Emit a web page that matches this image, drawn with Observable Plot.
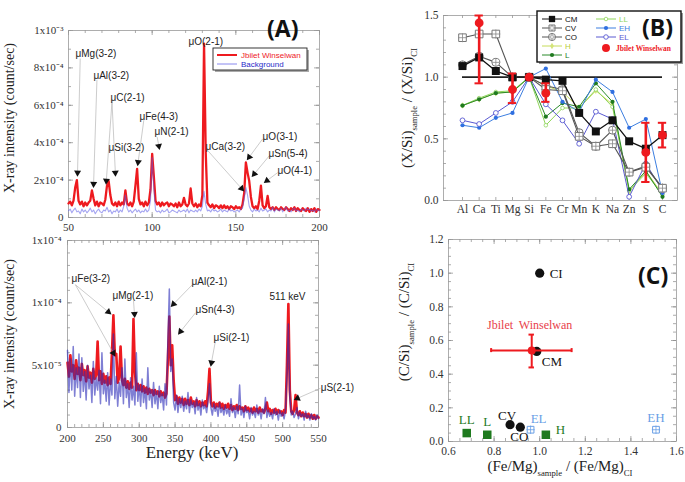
<!DOCTYPE html>
<html><head><meta charset="utf-8">
<script src="https://cdn.jsdelivr.net/npm/d3@7"></script>
<script src="https://cdn.jsdelivr.net/npm/@observablehq/plot@0.6"></script>
<style>
html,body{margin:0;padding:0;background:#fff;}
#wrap{position:relative;width:685px;height:482px;overflow:hidden;background:#fff;}
#wrap > svg{position:absolute;}
</style></head><body><div id="wrap"></div>
<script>
// ================= Panel (A) top: 50-200 keV, values in units of 1e-4 count/sec, 1 keV step =================
const spTopStart = 50, spTopStep = 1;
const spTopRed = [
0.75,0.85,0.65,0.9,1.6,2.0,0.9,0.7,0.85,0.6,
0.8,0.65,0.8,0.9,1.45,1.0,0.65,0.85,0.6,0.8,
0.75,0.65,0.95,1.7,1.95,1.2,0.75,0.65,0.8,0.6,
0.85,0.65,0.8,0.7,1.45,0.75,0.65,0.8,0.6,0.85,
1.7,2.6,1.0,0.7,0.8,0.6,0.85,0.65,0.8,1.5,
3.4,2.2,0.9,0.7,0.8,0.6,0.8,0.65,0.75,0.8,
0.6,0.75,0.7,0.6,0.75,0.55,0.8,0.6,0.7,1.05,
0.7,0.6,0.75,1.55,0.75,0.6,0.75,0.55,0.7,0.6,
1.2,9.3,3.5,0.8,0.65,0.55,0.7,0.5,0.65,0.6,
0.5,0.65,0.5,0.65,0.5,0.6,0.45,0.6,0.55,0.45,
0.6,0.5,0.55,0.45,0.7,1.3,2.95,2.4,1.95,1.1,
0.6,0.5,0.6,0.45,0.9,1.7,0.65,0.5,0.6,1.15,
0.55,0.45,0.55,0.4,0.55,0.45,0.4,0.55,0.45,0.4,
0.55,0.45,0.35,0.5,0.4,0.55,0.35,0.5,0.4,0.35,
0.5,0.4,0.35,0.5,0.3,0.45,0.35,0.5,0.3,0.45,
0.4];
const spTopBg = [
0.35,0.45,0.25,0.4,0.5,0.3,0.35,0.2,0.45,0.3,
0.4,0.25,0.35,0.5,0.3,0.4,0.2,0.35,0.45,0.3,
0.25,0.4,0.35,0.55,0.3,0.4,0.2,0.35,0.3,0.45,
0.25,0.4,0.3,0.6,1.2,0.5,0.3,0.4,0.25,0.35,
0.45,0.3,0.4,0.25,0.35,0.3,0.45,0.3,0.4,0.9,
3.2,1.5,0.4,0.3,0.35,0.25,0.4,0.3,0.35,0.45,
0.25,0.3,0.4,0.35,0.3,0.25,0.4,0.3,0.35,0.4,
0.3,0.45,0.25,0.4,0.35,0.3,0.4,0.3,0.45,0.35,
0.6,1.4,0.7,0.35,0.4,0.3,0.45,0.35,0.4,0.3,
0.35,0.45,0.3,0.4,0.35,0.3,0.45,0.35,0.4,0.3,
0.35,0.4,0.3,0.45,0.5,1.0,1.6,1.2,0.6,0.4,
0.3,0.45,0.35,0.4,0.3,0.5,0.35,0.4,0.45,0.3,
0.4,0.35,0.55,0.3,0.45,0.4,0.35,0.5,0.3,0.45,
0.55,0.35,0.4,0.3,0.45,0.5,0.35,0.4,0.3,0.45,
0.4,0.35,0.5,0.4,0.45,0.35,0.4,0.3,0.45,0.35,
0.4];
const xTopTicks = [50, 100, 150, 200];
const yTopTicks = [0, 2, 4, 6, 8, 10];
const yTopLabels = ["0", "2x10⁻⁴", "4x10⁻⁴", "6x10⁻⁴", "8x10⁻⁴", "1x10⁻³"];
const annTopText = ["μMg(3-2)","μAl(3-2)","μC(2-1)","μFe(4-3)","μN(2-1)","μSi(3-2)","μO(2-1)","μCa(3-2)","μO(3-1)","μSn(5-4)","μO(4-1)"];
const annTopE = [54.2, 64.9, 75.1, 92.4, 101.4, 73.9, 121.7, 131.9, 166, 169.5, 174.9];
const annTopY = [8.77, 7.59, 6.42, 5.4, 4.6, 3.74, 9.41, 3.8, 4.33, 3.42, 2.51];
const arrTopX1 = [57, 67, 76, 76, 95, 103, 133, 166, 170, 175];
const arrTopY1 = [8.5, 7.36, 6.2, 6.2, 5.2, 4.3, 3.6, 4.2, 3.3, 2.4];
const arrTopX2 = [55.4, 65, 72.6, 78, 91.6, 104, 153.4, 158, 161, 168.6];
const arrTopY2 = [2.4, 1.8, 1.97, 2.39, 2.96, 3.82, 1.55, 3.23, 2.33, 1.97];

// ================= Panel (A) bottom: 200-550 keV, units of 1e-5 count/sec, 2 keV step =================
const spBotStart = 200, spBotStep = 2;
const spBotRed = [
5.2,4.1,5.8,4.5,5.0,3.9,5.4,4.3,4.8,3.8,
5.1,4.2,4.6,3.7,4.9,4.0,4.4,3.6,4.7,3.9,
4.2,6.9,3.8,4.5,3.5,4.3,3.6,4.1,3.4,4.0,
3.5,6.0,9.0,5.8,5.9,3.6,4.0,6.5,3.8,3.4,
3.9,3.2,3.7,3.1,3.6,3.2,8.7,4.5,3.0,3.5,
3.0,3.4,2.9,3.3,2.8,3.2,2.7,3.1,2.8,3.0,
2.6,3.0,2.7,2.9,2.5,2.9,2.6,2.8,2.4,2.7,
5.5,8.9,5.0,6.6,3.8,2.2,2.5,1.9,2.4,2.0,
2.3,1.8,2.3,1.9,2.2,1.8,2.4,1.9,2.1,1.7,
2.2,1.8,2.1,1.7,2.0,1.8,2.1,1.7,2.9,4.7,
2.0,1.7,2.0,1.6,1.9,1.7,2.0,1.6,1.9,1.5,
1.8,1.6,1.9,1.5,1.8,1.4,1.7,1.5,1.8,1.4,
1.7,1.5,1.6,1.3,1.7,1.4,1.6,1.3,1.5,1.2,
1.6,1.3,1.5,1.2,1.6,1.3,1.4,1.2,1.5,2.0,
1.3,1.5,1.1,1.4,1.2,1.5,1.1,1.4,1.2,1.3,
1.0,1.4,1.2,5.0,9.9,3.0,1.3,1.1,1.4,2.6,
1.2,1.0,1.3,0.9,1.2,0.9,1.1,0.8,1.1,0.8,
1.0,0.7,1.0,0.7,0.9,0.8];
const spBotBg = [
6.2,2.8,5.5,3.0,6.5,2.5,4.8,3.2,5.9,2.4,
5.6,2.9,4.5,2.2,5.0,3.1,4.2,2.0,5.3,2.6,
4.0,3.0,4.6,1.9,6.0,2.7,3.8,2.1,4.4,1.8,
3.9,2.6,7.5,2.3,4.1,1.7,3.6,2.5,4.8,1.9,
5.5,2.4,3.5,1.6,4.0,2.2,3.3,1.8,6.0,2.1,
3.4,1.7,3.9,2.0,3.1,1.5,4.8,2.2,3.0,1.6,
3.6,1.9,2.9,1.5,3.3,2.0,2.7,1.4,3.5,1.8,
7.0,11.1,4.5,5.5,2.0,1.4,2.6,1.2,2.3,1.6,
2.5,1.3,2.1,1.5,2.8,1.2,2.2,1.6,2.0,1.1,
2.4,1.4,1.9,1.0,2.2,1.5,1.8,1.2,2.1,3.5,
1.6,1.0,1.9,1.3,1.7,0.9,2.0,1.2,1.6,1.0,
1.8,1.1,1.5,0.9,2.3,1.2,1.6,0.8,1.7,1.1,
3.4,1.0,1.5,0.8,1.7,1.2,1.4,0.7,1.6,1.0,
1.3,0.8,1.8,1.0,1.4,0.7,1.5,1.1,2.4,0.8,
1.4,0.9,1.2,0.7,1.5,1.0,1.3,0.6,1.4,0.9,
1.2,0.7,1.4,4.0,8.3,2.5,1.0,1.3,0.8,1.1,
1.6,0.7,1.2,0.9,1.1,0.6,1.3,0.8,1.0,0.6,
1.1,0.7,0.9,0.6,1.0,0.7];
const xBotTicks = [200, 250, 300, 350, 400, 450, 500, 550];
const yBotTicks = [0, 5, 10, 15];
const yBotLabels = ["0", "5x10⁻⁵", "1x10⁻⁴", "1x10⁻⁴"];
const annBotText = ["μFe(3-2)","μMg(2-1)","μAl(2-1)","μSn(4-3)","μSi(2-1)","511 keV","μS(2-1)"];
const annBotE = [205.6, 262.7, 372.9, 378.5, 403.6, 481.7, 553];
const annBotY = [11.9, 10.56, 11.7, 9.44, 7.18, 10.48, 3.15];
const arrBotX1 = [211, 211, 292, 374, 378.5, 406, 552.8];
const arrBotY1 = [11.45, 11.45, 10.2, 11.45, 9.2, 6.85, 3.15];
const arrBotX2 = [257, 264, 293.4, 347.8, 357.6, 400.7, 520.7];
const arrBotY2 = [9.27, 5.97, 9.1, 9.9, 7.7, 5.2, 2.34];

// ================= Panel (B) =================
const elements = ["Al","Ca","Ti","Mg","Si","Fe","Cr","Mn","K","Na","Zn","S","C"];
const bCM = [1.09,1.16,1.05,1.00,1.00,0.98,0.97,0.71,0.56,0.65,0.48,0.42,0.53];
const bCV = [1.32,1.35,1.35,1.00,1.00,0.90,0.89,0.52,0.44,0.46,0.23,0.27,0.10];
const bCO = [1.10,1.17,1.12,1.00,1.00,0.93,0.90,0.55,0.44,0.57,0.23,0.28,0.10];
const bH  = [0.77,0.82,0.87,0.88,1.00,0.93,0.88,0.75,0.89,0.78,0.07,0.24,0.05];
const bL  = [0.77,0.82,0.87,0.88,1.00,0.68,0.79,0.76,0.95,0.80,0.09,0.24,0.03];
const bLL = [0.77,0.83,0.88,0.89,1.00,0.61,0.75,0.75,0.90,0.76,0.08,0.22,0.05];
const bEH = [0.61,0.59,0.67,0.71,1.00,1.07,0.80,0.72,0.98,0.88,0.59,0.66,0.06];
const bEL = [0.65,0.62,0.71,0.80,1.00,0.78,0.65,0.46,0.72,0.66,0.03,0.30,0.08];
const jbEl = ["Ca","Mg","Si","Fe","S","C"];
const jbVal = [1.44, 0.90, 1.00, 0.87, 0.39, 0.53];
const jbLo  = [0.95, 0.79, 1.00, 0.80, 0.15, 0.43];
const jbHi  = [1.50, 1.03, 1.00, 0.95, 0.63, 0.63];
const yBTicks = [0, 0.5, 1.0, 1.5];

// ================= Panel (C) =================
const cNames = ["CI","CM","CV","CO","LL","L","H","EL","EH"];
const cGroup = ["C","C","C","C","O","O","O","E","E"];
const cFeMg  = [1.00, 0.987, 0.87, 0.915, 0.68, 0.77, 1.027, 0.96, 1.51];
const cCSi   = [1.00, 0.535, 0.10, 0.085, 0.05, 0.04, 0.04, 0.07, 0.07];
const jbC = {fe: 0.965, c: 0.54, feLo: 0.787, feHi: 1.14, cLo: 0.44, cHi: 0.635};
const xCTicks = [0.6, 0.8, 1.0, 1.2, 1.4, 1.6];
const yCTicks = [0, 0.2, 0.4, 0.6, 0.8, 1.0, 1.2];

// ================= styles =================
const RED = "#ee1a1f", BLUE = "#2a2ab8";
const SERIF = "'Liberation Serif', 'Times New Roman', serif";
const SANS = "'Liberation Sans', Arial, sans-serif";
const baseStyle = {fontFamily: SERIF, fontSize: "11px", color: "#333", background: "transparent", overflow: "visible"};
const labelOffsetC = {CI:[10,1,"start"], CM:[5,10,"start"], CV:[-3,-9,"middle"], CO:[-1,10,"middle"], EL:[8,-11,"middle"], H:[10,-5,"start"], LL:[0,-13,"middle"], L:[0,-13,"middle"], EH:[0,-12,"middle"]};
const groupColorC = {C:"#111", O:"#1f7a1f", E:"#6a9fe6"};

const wrap = document.getElementById("wrap");
function place(svg, left, top) { svg.style.position = "absolute"; svg.style.left = left + "px"; svg.style.top = top + "px"; wrap.appendChild(svg); }
function inTicks(xs, ys, xd, yd, lx, ly, stroke) {
  const o = {stroke: stroke || "#888", strokeWidth: 0.7};
  return [
    Plot.ruleX(xs, {x: d => d, y1: () => yd[0], y2: () => yd[0] + ly, ...o}),
    Plot.ruleX(xs, {x: d => d, y1: () => yd[1], y2: () => yd[1] - ly, ...o}),
    Plot.ruleY(ys, {y: d => d, x1: () => xd[0], x2: () => xd[0] + lx, ...o}),
    Plot.ruleY(ys, {y: d => d, x1: () => xd[1], x2: () => xd[1] - lx, ...o})
  ];
}
function headRot(a, kx, ky) { return Math.atan2(-(a.y2 - a.y1) * ky, (a.x2 - a.x1) * kx) * 180 / Math.PI + 90; }

// ---------- Panel A top ----------
{
  const red = spTopRed.map((v, i) => ({e: spTopStart + i * spTopStep, v}));
  const bg = spTopBg.map((v, i) => ({e: spTopStart + i * spTopStep, v}));
  const labs = annTopText.map((t, i) => ({t, e: annTopE[i], y: annTopY[i]}));
  const arr = arrTopX1.map((x1, i) => ({x1, y1: arrTopY1[i], x2: arrTopX2[i], y2: arrTopY2[i]}));
  const kx = 251 / 150, ky = 187 / 10;
  const p = Plot.plot({
    width: 330, height: 235, marginLeft: 68, marginRight: 11, marginTop: 30, marginBottom: 18,
    style: baseStyle,
    x: {domain: [50, 200], label: null}, y: {domain: [0, 10], label: null},
    marks: [
      ...inTicks(d3.range(50, 201, 10), d3.range(0, 10.01, 1), [50, 200], [0, 10], 150 / 251 * 3, 10 / 187 * 3),
      ...inTicks(xTopTicks, yTopTicks, [50, 200], [0, 10], 150 / 251 * 5, 10 / 187 * 5),
      Plot.frame({stroke: "#999", strokeWidth: 0.8}),
      Plot.axisX({ticks: xTopTicks, tickSize: 0, tickPadding: 6, tickFormat: d => String(d)}),
      Plot.axisY({ticks: yTopTicks, tickSize: 0, tickPadding: 5, tickFormat: d => yTopLabels[yTopTicks.indexOf(d)]}),
      Plot.line(red, {x: "e", y: "v", stroke: RED, strokeWidth: 2.3, strokeLinejoin: "round"}),
      Plot.line(bg, {x: "e", y: "v", stroke: "#5a5ae6", strokeWidth: 1.1, strokeOpacity: 0.55}),
      Plot.link(arr, {x1: "x1", y1: "y1", x2: "x2", y2: "y2", stroke: "#aaa", strokeWidth: 0.6}),
      Plot.dot(arr, {x: "x2", y: "y2", symbol: "triangle", r: 2.6, fill: "#111", rotate: d => headRot(d, kx, ky)}),
      Plot.text(labs, {x: "e", y: "y", text: "t", textAnchor: "start", fontFamily: SANS, fontSize: 10, fill: "#222"})
    ]
  });
  place(p, 0, 0);
}

// ---------- Panel A bottom ----------
{
  const red = spBotRed.map((v, i) => ({e: spBotStart + i * spBotStep, v}));
  const bg = spBotBg.map((v, i) => ({e: spBotStart + i * spBotStep, v}));
  const labs = annBotText.map((t, i) => ({t, e: annBotE[i], y: annBotY[i]}));
  const arr = arrBotX1.map((x1, i) => ({x1, y1: arrBotY1[i], x2: arrBotX2[i], y2: arrBotY2[i]}));
  const kx = 251 / 350, ky = 187 / 15;
  const p = Plot.plot({
    width: 360, height: 252, marginLeft: 67, marginRight: 42, marginTop: 10, marginBottom: 55,
    style: baseStyle,
    x: {domain: [200, 550], label: null}, y: {domain: [0, 15], label: null},
    marks: [
      ...inTicks(d3.range(200, 551, 10), d3.range(0, 15.01, 1), [200, 550], [0, 15], 350 / 251 * 3, 15 / 187 * 3),
      ...inTicks(xBotTicks, yBotTicks, [200, 550], [0, 15], 350 / 251 * 5, 15 / 187 * 5),
      Plot.frame({stroke: "#999", strokeWidth: 0.8}),
      Plot.axisX({ticks: xBotTicks, tickSize: 0, tickPadding: 7, tickFormat: d => String(d)}),
      Plot.axisY({ticks: yBotTicks, tickSize: 0, tickPadding: 6, tickFormat: d => yBotLabels[yBotTicks.indexOf(d)]}),
      Plot.line(red, {x: "e", y: "v", stroke: RED, strokeWidth: 2.6, strokeLinejoin: "round"}),
      Plot.line(bg, {x: "e", y: "v", stroke: BLUE, strokeWidth: 1.5, strokeOpacity: 0.6}),
      Plot.link(arr, {x1: "x1", y1: "y1", x2: "x2", y2: "y2", stroke: "#aaa", strokeWidth: 0.6}),
      Plot.dot(arr, {x: "x2", y: "y2", symbol: "triangle", r: 2.6, fill: "#111", rotate: d => headRot(d, kx, ky)}),
      Plot.text(labs, {x: "e", y: "y", text: "t", textAnchor: "start", fontFamily: SANS, fontSize: 10, fill: "#222"})
    ]
  });
  place(p, 0, 230);
}

// ---------- Panel B ----------
{
  const rows = arr => arr.map((v, i) => ({i, v}));
  const jb = jbEl.map((el, k) => ({i: elements.indexOf(el), v: jbVal[k], lo: jbLo[k], hi: jbHi[k]}));
  const jbErr = jb.filter(d => d.hi > d.lo);
  const xd = [-1.14, 12.9];
  const idx = elements.map((_, i) => i);
  const p = Plot.plot({
    width: 345, height: 225, marginLeft: 103, marginRight: 8, marginTop: 15, marginBottom: 25,
    style: baseStyle,
    x: {domain: xd, label: null}, y: {domain: [0, 1.5], label: null},
    marks: [
      ...inTicks(idx, d3.range(0, 1.501, 0.1), xd, [0, 1.5], 14 / 234 * 3, 1.5 / 185 * 3),
      ...inTicks([], yBTicks, xd, [0, 1.5], 14 / 234 * 5, 1.5 / 185 * 5),
      Plot.frame({stroke: "#999", strokeWidth: 0.8}),
      Plot.axisX({ticks: idx, tickSize: 0, tickPadding: 4, tickFormat: i => elements[i], fontSize: 11.5}),
      Plot.axisY({ticks: yBTicks, tickSize: 0, tickPadding: 5, tickFormat: d3.format(".1f"), fontSize: 11.5}),
      Plot.ruleY([1], {x1: () => 0, x2: () => 12, stroke: "#222", strokeWidth: 1.6}),
      Plot.line(rows(bH), {x: "i", y: "v", stroke: "#c6dc5a", strokeWidth: 1}),
      Plot.dot(rows(bH), {x: "i", y: "v", symbol: "diamond", r: 2, fill: "#d4e47a"}),
      Plot.line(rows(bLL), {x: "i", y: "v", stroke: "#8fd65a", strokeWidth: 1}),
      Plot.dot(rows(bLL), {x: "i", y: "v", r: 1.8, fill: "#fff", stroke: "#8fd65a", strokeWidth: 0.8}),
      Plot.line(rows(bL), {x: "i", y: "v", stroke: "#2a8a2a", strokeWidth: 1}),
      Plot.dot(rows(bL), {x: "i", y: "v", r: 2.1, fill: "#1f7a1f"}),
      Plot.line(rows(bEH), {x: "i", y: "v", stroke: "#3c7ee0", strokeWidth: 1}),
      Plot.dot(rows(bEH), {x: "i", y: "v", r: 2.1, fill: "#2f6fe0"}),
      Plot.line(rows(bEL), {x: "i", y: "v", stroke: "#5a5ad2", strokeWidth: 1}),
      Plot.dot(rows(bEL), {x: "i", y: "v", r: 2.4, fill: "#fff", stroke: "#5a5ad2", strokeWidth: 0.9}),
      Plot.line(rows(bCO), {x: "i", y: "v", stroke: "#555", strokeWidth: 1.1}),
      Plot.dot(rows(bCO), {x: "i", y: "v", r: 4, fill: "#fff", stroke: "#777", strokeWidth: 1}),
      Plot.dot(rows(bCO), {x: "i", y: "v", symbol: "plus", r: 2.6, stroke: "#888", strokeWidth: 0.8}),
      Plot.line(rows(bCV), {x: "i", y: "v", stroke: "#555", strokeWidth: 1.1}),
      Plot.dot(rows(bCV), {x: "i", y: "v", symbol: "square", r: 4.3, fill: "#fff", stroke: "#777", strokeWidth: 1}),
      Plot.dot(rows(bCV), {x: "i", y: "v", symbol: "plus", r: 3, stroke: "#888", strokeWidth: 0.8}),
      Plot.line(rows(bCM), {x: "i", y: "v", stroke: "#111", strokeWidth: 1.3}),
      Plot.dot(rows(bCM), {x: "i", y: "v", symbol: "square", r: 4.5, fill: "#111"}),
      Plot.ruleX(jbErr, {x: "i", y1: "lo", y2: "hi", stroke: RED, strokeWidth: 2.6}),
      Plot.ruleY(jbErr, {y: "lo", x1: d => d.i - 0.25, x2: d => d.i + 0.25, stroke: RED, strokeWidth: 2}),
      Plot.ruleY(jbErr, {y: "hi", x1: d => d.i - 0.25, x2: d => d.i + 0.25, stroke: RED, strokeWidth: 2}),
      Plot.dot(jb, {x: "i", y: "v", r: 4.4, fill: RED})
    ]
  });
  place(p, 340, 0);
}

// ---------- Panel C ----------
{
  const pts = cNames.map((n, k) => ({n, g: cGroup[k], x: cFeMg[k], y: cCSi[k]}));
  const carb = pts.filter(d => d.g === "C"), ord = pts.filter(d => d.g === "O"), ens = pts.filter(d => d.g === "E");
  const p = Plot.plot({
    width: 345, height: 257, marginLeft: 108, marginRight: 9, marginTop: 14, marginBottom: 41,
    style: baseStyle,
    x: {domain: [0.6, 1.6], label: null}, y: {domain: [0, 1.2], label: null},
    marks: [
      ...inTicks(d3.range(0.6, 1.601, 0.05), d3.range(0, 1.201, 0.05), [0.6, 1.6], [0, 1.2], 1 / 228 * 3, 1.2 / 202 * 3),
      ...inTicks(xCTicks, yCTicks, [0.6, 1.6], [0, 1.2], 1 / 228 * 5, 1.2 / 202 * 5),
      Plot.frame({stroke: "#999", strokeWidth: 0.8}),
      Plot.axisX({ticks: xCTicks, tickSize: 0, tickPadding: 5, tickFormat: d3.format(".1f"), fontSize: 11.5}),
      Plot.axisY({ticks: yCTicks, tickSize: 0, tickPadding: 5, tickFormat: d3.format(".1f"), fontSize: 11.5}),
      Plot.dot(carb, {x: "x", y: "y", r: 4.6, fill: "#111"}),
      Plot.dot(ord, {x: "x", y: "y", symbol: "square", r: 4.8, fill: "#1f7a1f"}),
      Plot.dot(ens, {x: "x", y: "y", symbol: "square", r: 3.8, fill: "#fff", stroke: groupColorC.E, strokeWidth: 1}),
      Plot.dot(ens, {x: "x", y: "y", symbol: "plus", r: 2.8, stroke: groupColorC.E, strokeWidth: 0.8}),
      ...pts.map(d => Plot.text([d], {x: "x", y: "y", text: "n", dx: labelOffsetC[d.n][0], dy: labelOffsetC[d.n][1], textAnchor: labelOffsetC[d.n][2], fill: groupColorC[d.g], fontSize: 13, fontFamily: SERIF})),
      Plot.ruleY([jbC], {y: "c", x1: "feLo", x2: "feHi", stroke: RED, strokeWidth: 2}),
      Plot.ruleX([jbC], {x: "fe", y1: "cLo", y2: "cHi", stroke: RED, strokeWidth: 2}),
      Plot.ruleX([jbC], {x: "feLo", y1: d => d.c - 0.012, y2: d => d.c + 0.012, stroke: RED, strokeWidth: 2}),
      Plot.ruleX([jbC], {x: "feHi", y1: d => d.c - 0.012, y2: d => d.c + 0.012, stroke: RED, strokeWidth: 2}),
      Plot.ruleY([jbC], {y: "cLo", x1: d => d.fe - 0.012, x2: d => d.fe + 0.012, stroke: RED, strokeWidth: 2}),
      Plot.ruleY([jbC], {y: "cHi", x1: d => d.fe - 0.012, x2: d => d.fe + 0.012, stroke: RED, strokeWidth: 2}),
      Plot.dot([jbC], {x: "fe", y: "c", r: 4, fill: RED}),
      Plot.text([jbC], {x: "fe", y: "c", text: () => "Jbilet  Winselwan", dy: -25, dx: -2, fill: "#e8404a", fontSize: 12, fontFamily: SERIF})
    ]
  });
  place(p, 340, 225);
}

// ---------- overlay: titles, panel labels, legends ----------
const ov = d3.select("#wrap").append("svg").attr("width", 685).attr("height", 482).style("left", "0px").style("top", "0px");
function addParts(t, parts, size) {
  let down = false;
  parts.forEach(p => {
    const s = t.append("tspan").text(p.t);
    if (p.sub) { s.attr("font-size", size * 0.58).attr("dy", size * 0.32); down = true; }
    else if (down) { s.attr("dy", -size * 0.32); down = false; }
  });
}
function rotLabel(x, y, parts, size) {
  const t = ov.append("text").attr("transform", `translate(${x},${y}) rotate(-90)`).attr("text-anchor", "middle")
    .attr("font-family", SERIF).attr("font-size", size).attr("fill", "#222");
  addParts(t, parts, size);
}
rotLabel(14, 118, [{t: "X-ray intensity (count/sec)"}], 14);
rotLabel(14, 334, [{t: "X-ray intensity (count/sec)"}], 14);
ov.append("text").attr("x", 192).attr("y", 458).attr("text-anchor", "middle").attr("font-family", SERIF).attr("font-size", 17).attr("fill", "#222").text("Energy (keV)");
rotLabel(412, 108, [{t: "(X/Si)"}, {t: "sample", sub: true}, {t: " / (X/Si)"}, {t: "CI", sub: true}], 15);
rotLabel(409, 322, [{t: "(C/Si)"}, {t: "sample", sub: true}, {t: " / (C/Si)"}, {t: "CI", sub: true}], 15);
{
  const t = ov.append("text").attr("x", 560).attr("y", 471).attr("text-anchor", "middle").attr("font-family", SERIF).attr("font-size", 15).attr("fill", "#222");
  addParts(t, [{t: "(Fe/Mg)"}, {t: "sample", sub: true}, {t: " / (Fe/Mg)"}, {t: "CI", sub: true}], 15);
}

// Legend A
{
  const g = ov.append("g");
  g.append("rect").attr("x", 215).attr("y", 50).attr("width", 94).attr("height", 22).attr("fill", "#aaa");
  g.append("rect").attr("x", 213).attr("y", 48).attr("width", 94).attr("height", 22).attr("fill", "#fff").attr("stroke", "#222").attr("stroke-width", 0.9);
  g.append("line").attr("x1", 217).attr("x2", 237).attr("y1", 55).attr("y2", 55).attr("stroke", RED).attr("stroke-width", 2);
  g.append("text").attr("x", 241).attr("y", 58).attr("font-family", SANS).attr("font-size", 8).attr("fill", RED).text("Jbilet Winselwan");
  g.append("line").attr("x1", 217).attr("x2", 237).attr("y1", 64).attr("y2", 64).attr("stroke", "#8888ee").attr("stroke-width", 1);
  g.append("text").attr("x", 241).attr("y", 67).attr("font-family", SANS).attr("font-size", 8).attr("fill", "#2a2ac8").text("Background");
}
// Legend B
{
  const g = ov.append("g");
  g.append("rect").attr("x", 539).attr("y", 13).attr("width", 144).attr("height", 51).attr("fill", "#999");
  g.append("rect").attr("x", 537).attr("y", 11).attr("width", 144).attr("height", 51).attr("fill", "#fff").attr("stroke", "#111").attr("stroke-width", 1.4);
  const sym = (type, x, y, size, fill, stroke, sw) => g.append("path").attr("d", d3.symbol(type, size)()).attr("transform", `translate(${x},${y})`).attr("fill", fill).attr("stroke", stroke || "none").attr("stroke-width", sw || 1);
  const entry = (x0, y, line, txt, tcol) => {
    g.append("line").attr("x1", x0).attr("x2", x0 + 20).attr("y1", y).attr("y2", y).attr("stroke", line).attr("stroke-width", 1);
    g.append("text").attr("x", x0 + 23).attr("y", y + 3).attr("font-family", SANS).attr("font-size", 8).attr("fill", tcol).text(txt);
  };
  entry(542, 19, "#111", "CM", "#111"); sym(d3.symbolSquare, 552, 19, 40, "#111");
  entry(542, 28, "#555", "CV", "#111"); sym(d3.symbolSquare, 552, 28, 36, "#fff", "#777"); sym(d3.symbolCross, 552, 28, 14, "none", "#888", 0.7);
  entry(542, 37, "#555", "CO", "#111"); sym(d3.symbolCircle, 552, 37, 40, "#fff", "#777"); sym(d3.symbolCross, 552, 37, 12, "none", "#888", 0.7);
  entry(542, 46, "#c6dc5a", "H", "#b8cc40"); sym(d3.symbolDiamond, 552, 46, 12, "#d4e47a");
  entry(542, 55, "#2a8a2a", "L", "#1f7a1f"); sym(d3.symbolCircle, 552, 55, 14, "#1f7a1f");
  entry(596, 19, "#8fd65a", "LL", "#8fd65a"); sym(d3.symbolCircle, 606, 19, 10, "#fff", "#8fd65a", 0.8);
  entry(596, 28, "#3c7ee0", "EH", "#3c7ee0"); sym(d3.symbolCircle, 606, 28, 14, "#2f6fe0");
  entry(596, 37, "#5a5ad2", "EL", "#5a5ad2"); sym(d3.symbolCircle, 606, 37, 16, "#fff", "#5a5ad2", 0.9);
  sym(d3.symbolCircle, 606, 48, 50, RED);
  g.append("text").attr("x", 616).attr("y", 51).attr("font-family", SERIF).attr("font-weight", "bold").attr("font-size", 7.5).attr("fill", RED).text("Jbilet Winselwan");
}
// Panel labels
const panelLab = (x, y, t) => ov.append("text").attr("x", x).attr("y", y).attr("font-family", "'Open Sans', 'Noto Sans', sans-serif").attr("font-weight", 700).attr("font-size", 23).attr("fill", "#111").text(t);
panelLab(267, 37, "(A)");
panelLab(642, 36, "(B)");
panelLab(638, 284, "(C)");
</script></body></html>
